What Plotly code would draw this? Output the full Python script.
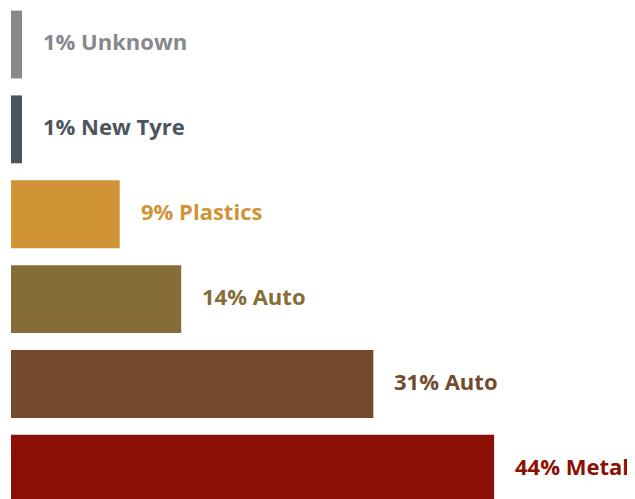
import plotly.graph_objects as go

categories = ["Unknown", "New Tyre", "Plastics", "Auto", "Auto", "Metal"]
shares = [1, 1, 9, 14, 31, 44]               # percentages shown in labels
bar_lengths = [1.0, 1.0, 9.9, 15.5, 33.0, 44.0]  # bar lengths
colors = ["#88878c", "#4b555e", "#d09336", "#866c36", "#744a2f", "#8b0f05"]

positions = list(range(len(categories)))

fig = go.Figure()
fig.add_trace(go.Bar(
    x=bar_lengths,
    y=positions,
    orientation="h",
    width=0.8,
    marker=dict(color=colors, line=dict(width=0)),
    hoverinfo="skip",
    showlegend=False,
))

for p, v, s, c, col in zip(positions, bar_lengths, shares, categories, colors):
    fig.add_annotation(
        x=v, y=p, xref="x", yref="y",
        text=f"{s}% {c}",
        showarrow=False,
        xanchor="left", yanchor="middle",
        xshift=19, yshift=3,
        font=dict(family="Open Sans", size=22, color=col, weight="bold"),
    )

fig.update_layout(
    width=635, height=499,
    margin=dict(l=0, r=0, t=0, b=0),
    paper_bgcolor="white", plot_bgcolor="white",
    xaxis=dict(range=[-0.273, 57.56], visible=False, fixedrange=True),
    yaxis=dict(range=[5.45, -0.43], visible=False, fixedrange=True),
)

fig.write_html("out.html")
